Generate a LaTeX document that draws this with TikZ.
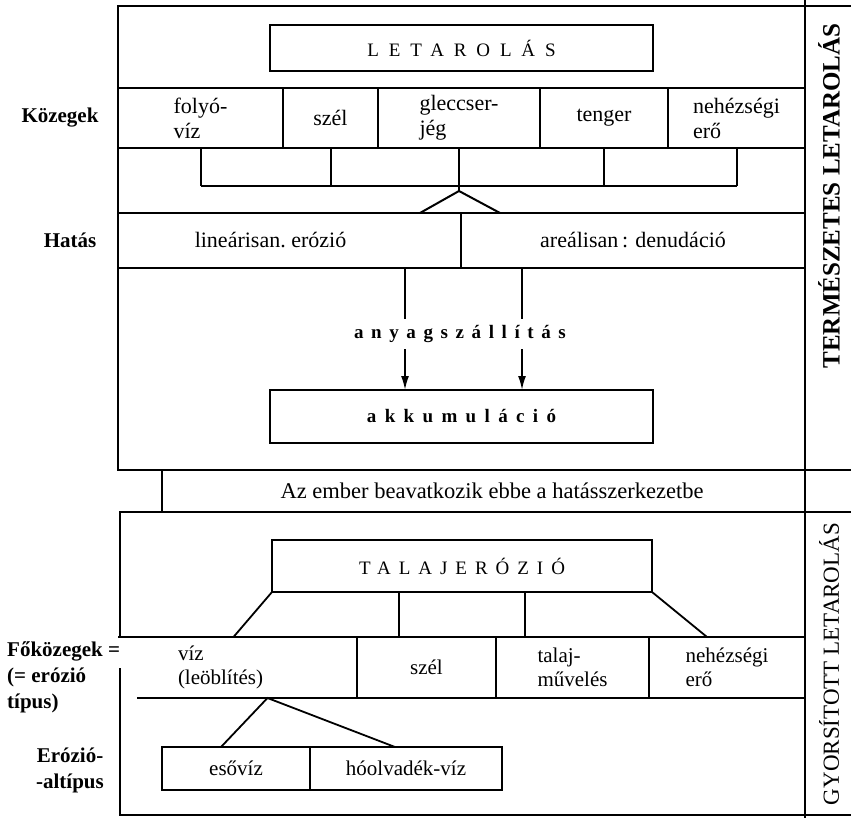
\documentclass[tikz,border=0pt]{standalone}
\usepackage{fontspec}
\setmainfont{Liberation Serif}
\usetikzlibrary{arrows.meta, positioning, calc}
\newcommand{\spread}[2]{{\addfontfeature{LetterSpace=#1}#2}}
\tikzset{
  frame/.style={draw, line width=2.8pt, inner sep=0pt, outer sep=0pt},
  heavy/.style={line width=2.8pt},
  rowline/.style={line width=2pt},
  lowline/.style={line width=1.8pt},
  cell/.style={
    draw,
    line width=2pt,
    inner sep=0pt,
    outer sep=0pt,
    align=left,
    font=\fontsize{22}{25}\selectfont
  },
  lowcell/.style={
    draw,
    line width=1.8pt,
    inner sep=0pt,
    outer sep=0pt,
    align=left,
    font=\fontsize{21}{24}\selectfont
  },
  headbox/.style={
    draw,
    line width=2.4pt,
    inner sep=0pt,
    outer sep=0pt,
    minimum width=383,
    minimum height=46
  },
  sidelabel/.style={align=left, font=\bfseries\fontsize{21}{26}\selectfont},
  columnlabel/.style={rotate=90, font=\fontsize{23}{24}\selectfont},
  arrow/.style={-{Latex[length=14pt, width=8pt]}, line width=1.8pt}
}

\begin{document}
\begin{tikzpicture}[x=1pt, y=-1pt, node distance=0pt]
  \useasboundingbox (0,0) rectangle (851,818);

  \node[frame, minimum width=687, minimum height=464] (natural) at (461.5,238) {};
  \coordinate (edge) at (851,0);
  \draw[heavy] (natural.north east) -- (natural.north east -| edge);
  \draw[rowline] (natural.south east) -- (natural.south east -| edge);
  \draw[heavy] (805,0) -- (805,818);

  \node[headbox, font=\fontsize{19}{20}\selectfont] (letarolas) at (461.5,48) {\spread{52}{LETAROLÁS}};

  \node[cell, minimum width=165, minimum height=60] (folyo) at (200.5,118) {folyó-\\víz};
  \node[cell, minimum width=95, minimum height=60, right=of folyo] (szel) {szél};
  \node[cell, minimum width=162, minimum height=60, right=of szel] (gleccser) {gleccser-\\jég};
  \node[cell, minimum width=128, minimum height=60, right=of gleccser] (tenger) {tenger};
  \node[cell, minimum width=137, minimum height=60, right=of tenger] (nehez) {nehézségi\\erő};

  \node[cell, minimum width=343, minimum height=55] (linear) at (289.5,240.5) {lineárisan.\ erózió\hspace*{38pt}};
  \node[cell, minimum width=344, minimum height=55, right=of linear] (areal) {areálisan\,: denudáció};
  \draw[heavy] (linear.north east) -- (linear.south east);

  \coordinate (comb) at (459,186);
  \coordinate (apex) at (459,191);
  \foreach \c in {folyo, szel, tenger, nehez}
    \draw[rowline] (\c.south) -- (\c.south |- comb);
  \draw[rowline] (folyo.south |- comb) -- (nehez.south |- comb);
  \draw[rowline] (gleccser.south) -- (apex);
  \draw[rowline] ([xshift=-41pt]linear.north east) -- (apex) -- ([xshift=39pt]linear.north east);

  \node[inner sep=0pt, minimum height=30, font=\bfseries\fontsize{19}{20}\selectfont] (flow) at (460,334) {\spread{40}{anyagszállítás}};
  \node[headbox, minimum height=53, font=\bfseries\fontsize{19}{20}\selectfont] (accum) at (461.5,416.5) {\spread{44}{akkumuláció}};
  \coordinate (leftlane) at (405,0);
  \coordinate (rightlane) at (522,0);
  \foreach \l in {leftlane, rightlane} {
    \draw[line width=1.8pt] (\l |- linear.south) -- (\l |- flow.north);
    \draw[arrow] (\l |- flow.south) -- (\l |- accum.north);
  }

  \node[font=\fontsize{22.5}{24}\selectfont] (ember) at (492,491) {Az ember beavatkozik ebbe a hatásszerkezetbe};
  \coordinate (gap) at (162,512);
  \draw[lowline] (gap |- natural.south) -- (gap);
  \draw[rowline] (851,512) -- (120,512) -- (120,637);
  \draw[rowline] (120,668) -- (120,815) -- (851,815);

  \node[headbox, minimum width=380, minimum height=52, line width=2pt, font=\fontsize{19}{20}\selectfont] (talaj) at (462,566) {\spread{42}{TALAJERÓZIÓ}};

  \node[lowcell, draw=none, inner xsep=60pt, text width=119pt, minimum height=61] (viz) at (237.5,667.5) {víz\\(leöblítés)};
  \node[lowcell, minimum width=139, minimum height=61, right=of viz] (szel2) {szél};
  \node[lowcell, minimum width=153, minimum height=61, right=of szel2] (muveles) {talaj-\\művelés};
  \node[lowcell, minimum width=156, minimum height=61, right=of muveles] (nehez2) {nehézségi\\erő};
  \draw[lowline] (viz.north west) -- (viz.north east);
  \draw[lowline] ([xshift=19pt]viz.south west) -- (viz.south east);

  \coordinate (third1) at ($(talaj.south west)!1/3!(talaj.south east)$);
  \coordinate (third2) at ($(talaj.south west)!2/3!(talaj.south east)$);
  \draw[lowline] (talaj.south west) -- ([xshift=-4pt]viz.north);
  \draw[lowline] (third1) -- (third1 |- viz.north);
  \draw[lowline] (third2) -- (third2 |- viz.north);
  \draw[lowline] (talaj.south east) -- ([xshift=58pt]nehez2.north west);

  \node[lowcell, minimum width=148, minimum height=43] (esoviz) at (236,768.5) {esővíz};
  \node[lowcell, minimum width=192, minimum height=43, right=of esoviz] (hoolvadek) {hóolvadék-víz};
  \coordinate (fork) at ([xshift=30pt]viz.south);
  \draw[lowline] ([xshift=-15pt]esoviz.north) -- (fork) -- ([xshift=-11pt]hoolvadek.north);

  \node[sidelabel] (kozegek) at (60,118) {Közegek};
  \node[sidelabel] (hatas) at (70,240) {Hatás};
  \node[sidelabel, anchor=west, inner sep=0pt] (fokozegek) at (7,677) {Főközegek =\\(= erózió\\típus)};
  \node[sidelabel, align=center] (altipus) at (70,770) {Erózió-\\-altípus};

  \node[columnlabel, font=\bfseries\fontsize{25}{26}\selectfont] (termeszetes) at (829,196) {TERMÉSZETES LETAROLÁS};
  \node[columnlabel] (gyorsitott) at (829,664) {GYORSÍTOTT LETAROLÁS};
\end{tikzpicture}
\end{document}
